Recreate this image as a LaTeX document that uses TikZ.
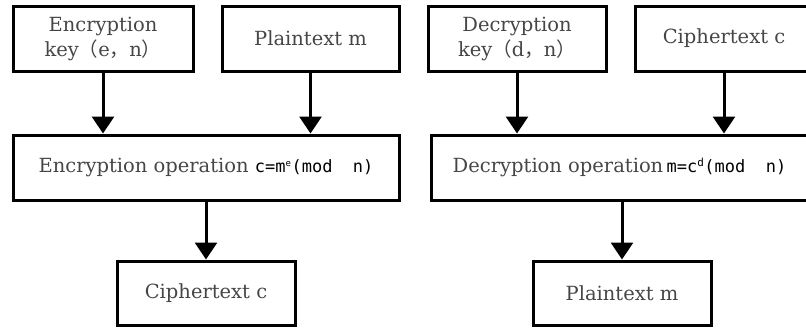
\documentclass[tikz,border=0pt]{standalone}
\usepackage{fontspec}
\setmainfont{DejaVu Serif}
\setmonofont{DejaVu Sans Mono}
\newfontfamily\cjk{Noto Sans CJK SC}
\usetikzlibrary{arrows.meta}
\definecolor{txtgray}{RGB}{70,70,70}
\newcommand{\fw}[1]{{\cjk #1}}
\newcommand{\formula}[1]{{\color{black}\fontsize{17}{20}\ttfamily #1}}
\begin{document}
\begin{tikzpicture}[x=1pt,y=-1pt,
    box/.style={draw,line width=3pt,minimum height=65pt,text=txtgray,
      align=center,inner sep=0pt,font=\fontsize{19.5}{25}\selectfont},
    flow/.style={line width=3pt,-{Triangle[length=17pt,width=22pt]}}]
  \useasboundingbox (0,0) rectangle (806,327);

  \node[box,minimum width=180pt] (ekey) at (103,38.5) {Encryption\\key\fw{（}e\fw{，}n\fw{）}};
  \node[box,minimum width=177pt] (ptin) at (310.5,38.5) {Plaintext m};
  \node[box,minimum width=386pt] (encop) at (206,167.5)
    {Encryption operation \formula{c=m\textsuperscript{\fontsize{9}{9}\selectfont e}(mod\ \ n)}};
  \node[box,minimum width=178pt,minimum height=64pt] (ctout) at (206,293) {Ciphertext c};

  \node[box,minimum width=178pt] (dkey) at (517,38.5) {Decryption\\key\fw{（}d\fw{，}n\fw{）}};
  \node[box,minimum width=178pt] (ctin) at (724,38.5) {Ciphertext c};
  \node[box,minimum width=386pt] (decop) at (624,167.5)
    {Decryption operation\,\formula{m=c\textsuperscript{\fontsize{11}{11}\selectfont d}(mod\ \ n)}\hspace{9pt}};
  \node[box,minimum width=178pt,minimum height=64pt] (ptout) at (622,293) {Plaintext m};

  \draw[flow] (ekey.south) -- (ekey.south |- encop.north);
  \draw[flow] (ptin.south) -- (ptin.south |- encop.north);
  \draw[flow] (encop.south) -- (ctout.north);
  \draw[flow] (dkey.south) -- (dkey.south |- decop.north);
  \draw[flow] (ctin.south) -- (ctin.south |- decop.north);
  \draw[flow] (ptout.north |- decop.south) -- (ptout.north);
\end{tikzpicture}
\end{document}
